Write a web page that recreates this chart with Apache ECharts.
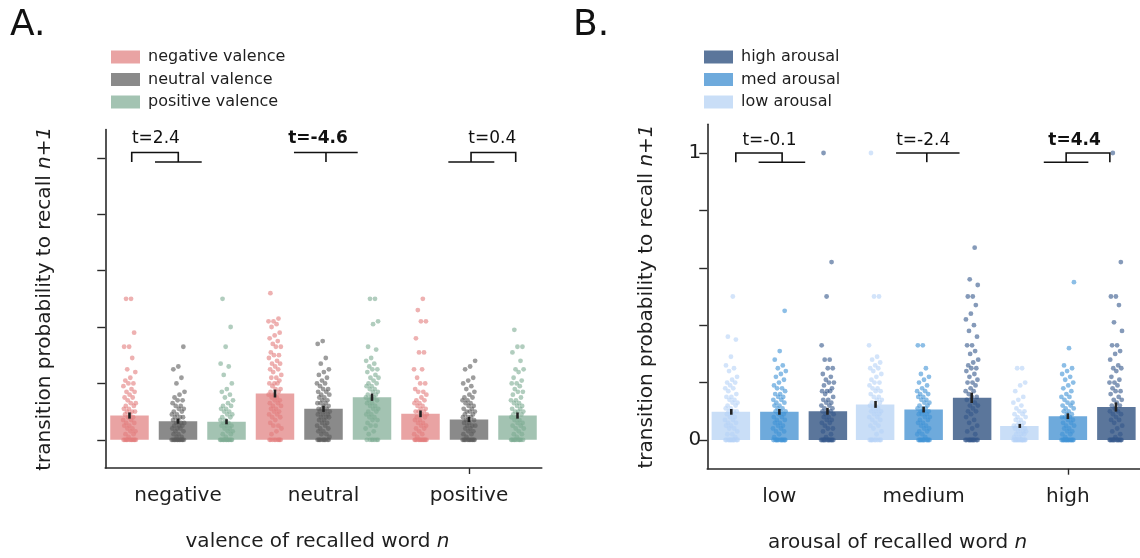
<!DOCTYPE html>
<html><head><meta charset="utf-8">
<script src="https://cdn.jsdelivr.net/npm/echarts@6/dist/echarts.min.js"></script>
<style>html,body{margin:0;padding:0;background:#fff}#c{width:1140px;height:558px}</style>
</head><body><div id="c"></div>
<script>
// ---------------- DATA ----------------
const valenceCats = ['negative', 'neutral', 'positive'];
const valenceNames = ['negative valence', 'neutral valence', 'positive valence'];
const valNegMeans = [0.086, 0.164, 0.092];
const valNeuMeans = [0.066, 0.110, 0.072];
const valPosMeans = [0.064, 0.151, 0.086];
const valNegSem = [0.011, 0.014, 0.012];
const valNeuSem = [0.009, 0.011, 0.009];
const valPosSem = [0.009, 0.013, 0.011];
const valTLabels = ['t=2.4', 't=-4.6', 't=0.4'];
const valTBold = [false, true, false];

const valNegDots = [
  [0.5,0.5,0.38,0.33,0.33,0.29,0.25,0.24,0.22,0.21,0.2,0.2,0.19,0.18,0.17,0.17,0.16,0.15,0.15,0.14,0.13,0.13,0.12,0.12,0.11,0.11,0.1,0.1,0.1,0.09,0.09,0.08,0.08,0.07,0.07,0.06,0.06,0.05,0.05,0.04,0.04,0.03,0.03,0.02,0.02,0.01,0,0,0,0,0,0,0,0,0,0,0,0],
  [0.52,0.43,0.42,0.42,0.41,0.4,0.38,0.37,0.36,0.35,0.34,0.33,0.33,0.31,0.3,0.3,0.29,0.28,0.27,0.27,0.26,0.25,0.25,0.24,0.23,0.22,0.22,0.21,0.2,0.2,0.2,0.19,0.18,0.18,0.17,0.17,0.16,0.16,0.15,0.15,0.14,0.14,0.13,0.13,0.12,0.12,0.11,0.11,0.1,0.1,0.09,0.09,0.08,0.08,0.07,0.06,0.05,0.05,0.04,0.03,0.02,0,0,0,0,0,0,0,0,0],
  [0.5,0.46,0.42,0.42,0.36,0.31,0.31,0.25,0.25,0.22,0.2,0.2,0.18,0.17,0.17,0.16,0.15,0.14,0.14,0.13,0.13,0.12,0.12,0.11,0.11,0.1,0.1,0.1,0.09,0.09,0.08,0.08,0.07,0.07,0.06,0.06,0.05,0.05,0.04,0.04,0.03,0.02,0.02,0.01,0,0,0,0,0,0,0,0,0,0,0,0]
];
const valNeuDots = [
  [0.33,0.26,0.25,0.22,0.2,0.17,0.16,0.15,0.14,0.14,0.13,0.12,0.12,0.11,0.11,0.1,0.1,0.09,0.09,0.08,0.08,0.08,0.07,0.07,0.06,0.06,0.06,0.05,0.05,0.05,0.04,0.04,0.04,0.03,0.03,0.02,0.02,0.01,0.01,0,0,0,0,0,0,0,0,0,0,0,0,0],
  [0.35,0.34,0.29,0.27,0.25,0.24,0.23,0.22,0.21,0.2,0.2,0.19,0.18,0.18,0.17,0.17,0.16,0.16,0.15,0.15,0.14,0.14,0.13,0.13,0.13,0.12,0.12,0.11,0.11,0.11,0.1,0.1,0.1,0.09,0.09,0.09,0.08,0.08,0.08,0.07,0.07,0.06,0.06,0.05,0.05,0.04,0.04,0.03,0.03,0.02,0.02,0.01,0,0,0,0,0,0,0,0,0,0],
  [0.28,0.26,0.25,0.22,0.21,0.2,0.19,0.18,0.17,0.16,0.15,0.15,0.14,0.14,0.13,0.13,0.12,0.12,0.11,0.11,0.1,0.1,0.1,0.09,0.09,0.08,0.08,0.08,0.07,0.07,0.06,0.06,0.05,0.05,0.05,0.04,0.04,0.03,0.03,0.02,0.02,0.01,0,0,0,0,0,0,0,0,0,0,0,0]
];
const valPosDots = [
  [0.5,0.4,0.33,0.27,0.26,0.23,0.2,0.18,0.17,0.16,0.15,0.14,0.13,0.12,0.12,0.11,0.11,0.1,0.1,0.09,0.09,0.08,0.08,0.07,0.07,0.06,0.06,0.05,0.05,0.05,0.04,0.04,0.03,0.03,0.02,0.02,0.01,0,0,0,0,0,0,0,0,0,0,0,0,0],
  [0.5,0.5,0.42,0.41,0.33,0.32,0.29,0.28,0.27,0.26,0.25,0.25,0.24,0.23,0.22,0.22,0.21,0.2,0.2,0.19,0.19,0.18,0.18,0.17,0.17,0.16,0.16,0.15,0.15,0.15,0.14,0.14,0.13,0.13,0.12,0.12,0.11,0.11,0.1,0.1,0.09,0.09,0.08,0.08,0.07,0.07,0.06,0.05,0.05,0.04,0.03,0.02,0,0,0,0,0,0,0],
  [0.39,0.33,0.33,0.31,0.28,0.25,0.25,0.24,0.22,0.21,0.2,0.2,0.19,0.18,0.17,0.17,0.16,0.15,0.14,0.14,0.13,0.13,0.12,0.12,0.11,0.11,0.1,0.1,0.1,0.09,0.09,0.08,0.08,0.07,0.07,0.06,0.06,0.05,0.05,0.04,0.04,0.03,0.02,0.02,0.01,0,0,0,0,0,0,0,0,0,0,0]
];

const arousalCats = ['low', 'medium', 'high'];
const arousalNames = ['low arousal', 'med arousal', 'high arousal'];
const aroLowMeans = [0.098, 0.124, 0.049];
const aroMedMeans = [0.098, 0.106, 0.083];
const aroHighMeans = [0.100, 0.147, 0.115];
const aroLowSem = [0.010, 0.012, 0.007];
const aroMedSem = [0.010, 0.010, 0.010];
const aroHighSem = [0.012, 0.018, 0.016];
const aroTLabels = ['t=-0.1', 't=-2.4', 't=4.4'];
const aroTBold = [false, false, true];

const aroLowDots = [
  [0.5,0.36,0.35,0.29,0.26,0.25,0.24,0.22,0.21,0.2,0.2,0.19,0.18,0.18,0.17,0.16,0.15,0.15,0.14,0.14,0.13,0.13,0.12,0.12,0.11,0.11,0.1,0.1,0.1,0.09,0.09,0.08,0.08,0.07,0.07,0.06,0.06,0.05,0.05,0.04,0.04,0.03,0.02,0.02,0.01,0,0,0,0,0,0,0,0,0,0,0],
  [1.0,0.5,0.5,0.33,0.29,0.28,0.27,0.26,0.25,0.25,0.24,0.23,0.22,0.21,0.2,0.2,0.19,0.18,0.18,0.17,0.17,0.16,0.15,0.15,0.14,0.14,0.13,0.13,0.12,0.12,0.11,0.11,0.1,0.1,0.1,0.09,0.09,0.08,0.08,0.07,0.07,0.06,0.05,0.05,0.04,0.03,0.02,0,0,0,0,0,0,0,0,0],
  [0.25,0.25,0.2,0.19,0.17,0.15,0.14,0.13,0.12,0.11,0.1,0.1,0.09,0.09,0.08,0.08,0.07,0.07,0.06,0.06,0.05,0.05,0.05,0.04,0.04,0.04,0.03,0.03,0.03,0.02,0.02,0.02,0.01,0.01,0,0,0,0,0,0,0,0,0,0,0,0,0,0]
];
const aroMedDots = [
  [0.45,0.31,0.28,0.26,0.25,0.24,0.23,0.22,0.21,0.2,0.19,0.18,0.18,0.17,0.16,0.16,0.15,0.15,0.14,0.14,0.13,0.13,0.12,0.12,0.11,0.11,0.1,0.1,0.1,0.09,0.09,0.08,0.08,0.07,0.07,0.06,0.06,0.05,0.05,0.04,0.04,0.03,0.03,0.02,0.01,0,0,0,0,0,0,0,0,0,0,0],
  [0.33,0.33,0.25,0.23,0.22,0.21,0.2,0.19,0.18,0.17,0.17,0.16,0.16,0.15,0.15,0.14,0.14,0.13,0.13,0.12,0.12,0.11,0.11,0.11,0.1,0.1,0.1,0.09,0.09,0.09,0.08,0.08,0.07,0.07,0.06,0.06,0.05,0.05,0.04,0.04,0.03,0.03,0.02,0.02,0.01,0,0,0,0,0,0,0,0,0,0,0],
  [0.55,0.32,0.26,0.25,0.24,0.23,0.22,0.21,0.2,0.19,0.18,0.17,0.16,0.15,0.15,0.14,0.13,0.13,0.12,0.12,0.11,0.11,0.1,0.1,0.09,0.09,0.08,0.08,0.08,0.07,0.07,0.06,0.06,0.05,0.05,0.04,0.04,0.03,0.03,0.02,0.02,0.01,0,0,0,0,0,0,0,0,0,0,0,0,0]
];
const aroHighDots = [
  [1.0,0.62,0.5,0.33,0.28,0.28,0.25,0.25,0.23,0.22,0.21,0.2,0.2,0.19,0.18,0.17,0.17,0.17,0.16,0.15,0.14,0.14,0.13,0.13,0.12,0.12,0.11,0.11,0.1,0.1,0.1,0.09,0.09,0.08,0.08,0.07,0.07,0.06,0.06,0.05,0.04,0.04,0.03,0.02,0.01,0,0,0,0,0,0,0,0,0,0,0,0],
  [0.67,0.56,0.54,0.5,0.5,0.47,0.44,0.42,0.4,0.38,0.36,0.33,0.33,0.31,0.3,0.28,0.27,0.26,0.25,0.25,0.24,0.23,0.22,0.21,0.2,0.2,0.19,0.18,0.17,0.17,0.16,0.15,0.15,0.14,0.13,0.12,0.12,0.11,0.1,0.1,0.09,0.08,0.07,0.06,0.05,0.04,0.03,0.02,0,0,0,0,0,0,0,0,0,0,0],
  [1.0,0.62,0.5,0.5,0.47,0.41,0.38,0.33,0.33,0.31,0.3,0.28,0.26,0.25,0.25,0.24,0.22,0.21,0.2,0.2,0.19,0.18,0.17,0.17,0.16,0.15,0.14,0.14,0.13,0.12,0.12,0.11,0.1,0.1,0.09,0.09,0.08,0.07,0.07,0.06,0.05,0.04,0.03,0.02,0.01,0,0,0,0,0,0,0,0,0,0,0,0]
];
const yTicks = [0, 0.2, 0.4, 0.6, 0.8, 1];
const yLabelsB = [0, 1];

// ---------------- STYLE / BUILD ----------------
const FONT = 'DejaVu Sans';
const TXT = '#1e1e1e';
const AX = '#2a2a2a';
const offsets = [-1/3, 0, 1/3];
function jit(i, s, c) {
  const f = ((i + 1) * 0.6180339887 + s * 0.29 + c * 0.53) % 1;
  return (f - 0.5) * 0.09;
}

const series = [];
function addPanel(p, names, means, sems, dots, barCols, dotCols, brackets, tLabels, tBold, tY) {
  const catAx = p * 2, valAx = p * 2 + 1;
  names.forEach((nm, s) => {
    series.push({
      type: 'bar', name: nm, xAxisIndex: catAx, yAxisIndex: p,
      data: means[s], barWidth: 38.5, barGap: '26%',
      itemStyle: { color: barCols[s] }, silent: true, z: 2
    });
  });
  names.forEach((nm, s) => {
    const pts = [];
    dots[s].forEach((arr, c) => arr.forEach((v, i) => pts.push([c + offsets[s] + jit(i, s, c), v])));
    series.push({
      type: 'scatter', xAxisIndex: valAx, yAxisIndex: p, data: pts,
      symbolSize: 4.8, itemStyle: { color: dotCols[s], opacity: 0.6 }, silent: true, z: 3
    });
  });
  const errData = [];
  names.forEach((nm, s) => means[s].forEach((m, c) => errData.push([c + offsets[s], m, sems[s][c]])));
  series.push({
    type: 'custom', xAxisIndex: valAx, yAxisIndex: p, data: errData, silent: true, z: 5,
    renderItem: (params, api) => {
      const x = api.value(0), m = api.value(1), e = api.value(2);
      const a = api.coord([x, m - e]), b = api.coord([x, m + e]);
      return { type: 'line', shape: { x1: a[0], y1: a[1], x2: b[0], y2: b[1] },
        style: { stroke: '#222', lineWidth: 2.6 } };
    }
  });
  series.push({
    type: 'custom', xAxisIndex: valAx, yAxisIndex: p, data: brackets.map((b, k) => [k]), silent: true, z: 6,
    clip: false,
    renderItem: (params, api) => {
      const k = api.value(0);
      const b = brackets[k];
      const children = b.lines.map(pl => ({
        type: 'polyline', shape: { points: pl.map(pt => api.coord(pt)) },
        style: { stroke: '#111', lineWidth: 1.6, fill: null }
      }));
      const tp = api.coord([b.tx, tY]);
      children.push({
        type: 'text', x: tp[0], y: tp[1],
        style: { text: tLabels[k], fontFamily: FONT, fontSize: 17, fontWeight: tBold[k] ? 'bold' : 'normal',
          fill: '#111', align: 'center', verticalAlign: 'middle' }
      });
      return { type: 'group', children };
    }
  });
}

// bracket geometry (annotation layout, in axis coordinates)
const bracketsA = [
  { lines: [[[-0.318, 0.985], [-0.318, 1.019], [0.002, 1.019], [0.002, 0.985]], [[-0.158, 0.985], [0.163, 0.985]]], tx: -0.152 },
  { lines: [[[0.797, 1.019], [1.235, 1.019]], [[1.017, 1.019], [1.017, 0.985]]], tx: 0.962 },
  { lines: [[[1.858, 0.985], [2.174, 0.985]], [[2.014, 0.985], [2.014, 1.019], [2.321, 1.019], [2.321, 0.985]]], tx: 2.16 }
];
const bracketsB = [
  { lines: [[[-0.302, 0.968], [-0.302, 1.0], [0.019, 1.0], [0.019, 0.968]], [[-0.144, 0.968], [0.179, 0.968]]], tx: -0.069 },
  { lines: [[[0.809, 1.0], [1.249, 1.0]], [[1.022, 1.0], [1.022, 0.968]]], tx: 0.997 },
  { lines: [[[1.833, 0.968], [2.142, 0.968]], [[1.988, 0.968], [1.988, 1.0], [2.291, 1.0], [2.291, 0.968]]], tx: 2.046 }
];

addPanel(0, valenceNames, [valNegMeans, valNeuMeans, valPosMeans], [valNegSem, valNeuSem, valPosSem],
  [valNegDots, valNeuDots, valPosDots], ['#e9a3a3', '#8a8a8a', '#a3c3b2'], ['#e27d7d', '#5c5c5c', '#7dac92'],
  bracketsA, valTLabels, valTBold, 1.067);
addPanel(1, arousalNames, [aroLowMeans, aroMedMeans, aroHighMeans], [aroLowSem, aroMedSem, aroHighSem],
  [aroLowDots, aroMedDots, aroHighDots], ['#c9def7', '#6eaadc', '#5b769b'], ['#b5d2f6', '#3f93d6', '#34578a'],
  bracketsB, aroTLabels, aroTBold, 1.043);

function catAxis(grid, cats, title, pad) {
  return {
    type: 'category', gridIndex: grid, data: cats, position: 'bottom', boundaryGap: true,
    axisLine: { show: false, onZero: false }, axisTick: { show: false },
    axisLabel: { color: TXT, fontFamily: FONT, fontSize: 20, margin: 18 },
    name: title, nameLocation: 'middle', nameGap: 64,
    nameTextStyle: { color: TXT, fontFamily: FONT, fontSize: 20, padding: pad,
      rich: { n: { fontFamily: FONT, fontSize: 20, color: TXT }, i: { fontFamily: FONT, fontSize: 20, color: TXT, fontStyle: 'italic' } } }
  };
}
function valXAxis(grid) {
  return {
    type: 'value', gridIndex: grid, min: -0.5, max: 2.5, position: 'bottom',
    axisLine: { show: true, onZero: false, lineStyle: { color: AX, width: 1.6 } },
    axisTick: { show: true, customValues: [2], length: 6, lineStyle: { color: AX, width: 1.4 } },
    axisLabel: { show: false }, splitLine: { show: false }
  };
}
function yAxis(grid, labels, gap) {
  return {
    type: 'value', gridIndex: grid, min: -0.1, max: 1.1, position: 'left',
    axisLine: { show: true, onZero: false, lineStyle: { color: AX, width: 1.6 } },
    axisTick: { show: true, customValues: yTicks, length: 8, lineStyle: { color: AX, width: 1.4 } },
    axisLabel: labels ? { show: true, customValues: labels, color: TXT, fontFamily: FONT, fontSize: 20, margin: 6,
      formatter: v => String(v) } : { show: false },
    splitLine: { show: false },
    name: '{n|transition probability to recall }{i|n+1}', nameLocation: 'middle', nameGap: gap,
    nameTextStyle: { color: TXT, fontFamily: FONT, fontSize: 20,
      rich: { n: { fontFamily: FONT, fontSize: 20, color: TXT }, i: { fontFamily: FONT, fontSize: 20, color: TXT, fontStyle: 'italic' } } }
  };
}

const legendBase = {
  orient: 'vertical', icon: 'rect', itemWidth: 29, itemHeight: 13, itemGap: 2.5,
  selectedMode: false,
  textStyle: { color: TXT, fontFamily: FONT, fontSize: 16, lineHeight: 20, padding: [0, 0, 0, 3] }
};

const option = {
  animation: false,
  backgroundColor: '#fff',
  grid: [
    { left: 105.25, top: 129.6, width: 436.5, height: 338.4 },
    { left: 707.25, top: 124.3, width: 436.5, height: 344.4 }
  ],
  xAxis: [
    catAxis(0, valenceCats, '{n|valence of recalled word }{i|n}', [0, 12, 0, 0]),
    valXAxis(0),
    catAxis(1, arousalCats, '{n|arousal of recalled word }{i|n}', [0, 52, 0, 0]),
    valXAxis(1)
  ],
  yAxis: [yAxis(0, null, 50), yAxis(1, yLabelsB, 50)],
  legend: [
    Object.assign({}, legendBase, { left: 106, top: 42, data: valenceNames }),
    Object.assign({}, legendBase, { left: 699, top: 42, data: ['high arousal', 'med arousal', 'low arousal'] })
  ],
  graphic: [
    { type: 'text', left: 10, top: 8, style: { text: 'A.', fontFamily: FONT, fontSize: 36, fill: '#111' } },
    { type: 'text', left: 573, top: 8, style: { text: 'B.', fontFamily: FONT, fontSize: 36, fill: '#111' } }
  ],
  series
};

const chart = echarts.init(document.getElementById('c'), null, { renderer: 'canvas' });
chart.setOption(option);
</script>
</body></html>
